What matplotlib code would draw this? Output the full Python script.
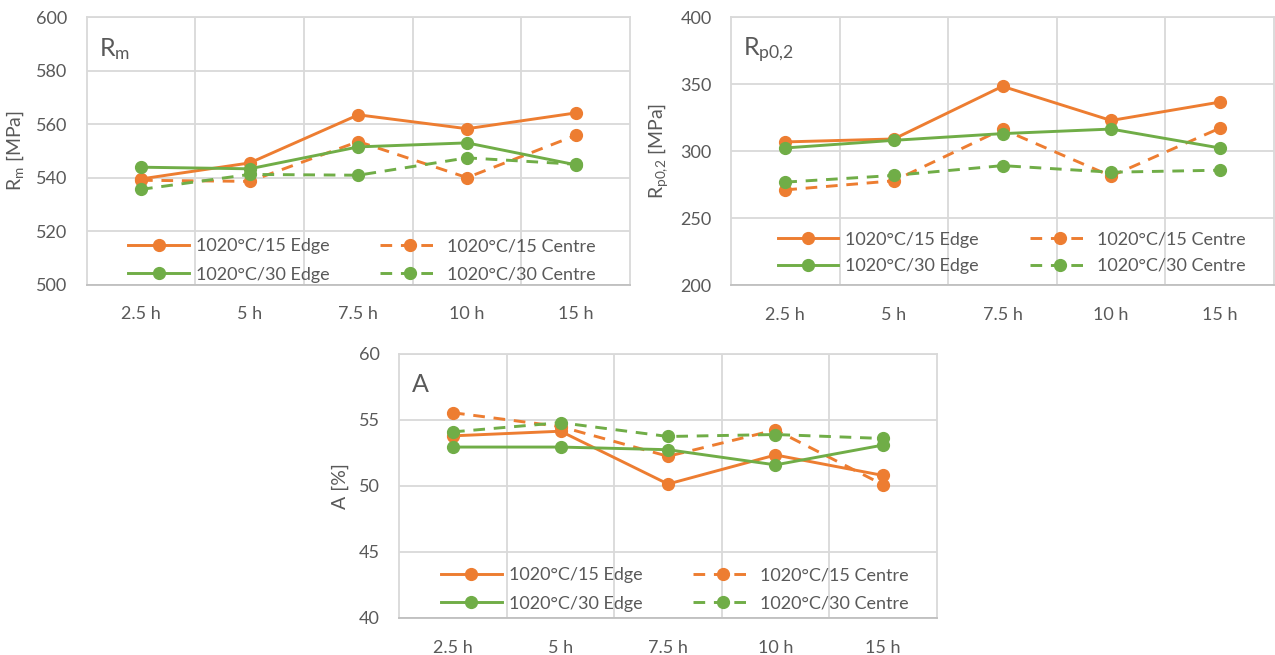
import matplotlib
matplotlib.use("Agg")
import matplotlib.pyplot as plt
import numpy as np

plt.rcParams['font.family'] = ['Lato', 'DejaVu Sans']
plt.rcParams['mathtext.fontset'] = 'custom'
plt.rcParams['mathtext.rm'] = 'Lato'
plt.rcParams['mathtext.it'] = 'Lato'

categories = ["2.5 h", "5 h", "7.5 h", "10 h", "15 h"]
series_labels = ["1020°C/15 Edge", "1020°C/15 Centre", "1020°C/30 Edge", "1020°C/30 Centre"]

rm_15_edge = [539.5, 545.5, 563.5, 558.3, 564.2]
rm_15_centre = [539.0, 538.6, 553.5, 540.0, 555.8]
rm_30_edge = [543.9, 543.3, 551.5, 553.0, 544.8]
rm_30_centre = [535.6, 541.2, 540.9, 547.4, 545.0]

rp_15_edge = [307.0, 309.2, 348.5, 323.0, 336.7]
rp_15_centre = [271.2, 278.0, 316.5, 281.5, 317.2]
rp_30_edge = [302.5, 308.2, 313.2, 316.6, 302.5]
rp_30_centre = [277.0, 282.0, 289.3, 284.4, 285.9]

a_15_edge = [53.8, 54.15, 50.15, 52.35, 50.8]
a_15_centre = [55.55, 54.5, 52.25, 54.25, 50.1]
a_30_edge = [52.95, 52.95, 52.75, 51.6, 53.1]
a_30_centre = [54.1, 54.8, 53.75, 53.9, 53.6]

ORANGE = "#ED7D31"
GREEN = "#70AD47"
TXT = "#595959"
GRID = "#D9D9D9"
FS = 13

W, H = 1275, 655
fig = plt.figure(figsize=(W / 100, H / 100), dpi=100)

def px_axes(l, t, r, b):
    return fig.add_axes([l / W, 1 - b / H, (r - l) / W, (b - t) / H])

def draw(ax, data, ylim, step, ylabel, title, leg_xy, leg_sp):
    x = list(range(len(categories)))
    dash = (0, (4, 3))
    styles = [(ORANGE, '-'), (ORANGE, dash), (GREEN, '-'), (GREEN, dash)]
    order = [0, 2, 1, 3]
    handles = []
    for (c, ls), vals, lab in zip(styles, data, series_labels):
        h, = ax.plot(x, vals, color=c, linestyle=ls, linewidth=2.1, marker='o',
                     markersize=8.5, label=lab, zorder=3, clip_on=False)
        handles.append(h)
    ax.set_xlim(-0.5, len(categories) - 0.5)
    ax.set_ylim(*ylim)
    ax.set_yticks(np.arange(ylim[0], ylim[1] + step / 2, step))
    ax.set_xticks(x)
    ax.set_xticklabels(categories)
    ax.set_xticks([i + 0.5 for i in range(len(categories) - 1)], minor=True)
    ax.grid(True, which='minor', axis='x', color=GRID, linewidth=1.3)
    ax.grid(True, which='major', axis='y', color=GRID, linewidth=1.3)
    ax.set_axisbelow(True)
    for s in ax.spines.values():
        s.set_color(GRID)
        s.set_linewidth(1.3)
    ax.spines['bottom'].set_color('#BFBFBF')
    ax.tick_params(which='both', length=0, labelsize=FS, colors=TXT)
    ax.tick_params(axis='x', pad=15.5)
    ax.tick_params(axis='y', pad=14)
    ax.set_ylabel(ylabel, fontsize=14, color=TXT, labelpad=7)
    ax.text(0.023, 0.855, title, transform=ax.transAxes, fontsize=18, color=TXT,
            ha='left', va='baseline')
    leg = ax.legend(handles=[handles[i] for i in order],
                    labels=[series_labels[i] for i in order],
                    ncol=2, loc='center', bbox_to_anchor=leg_xy,
                    frameon=False, fontsize=FS, handlelength=3.35,
                    columnspacing=2.8, labelspacing=leg_sp, handletextpad=0.38,
                    borderaxespad=0, borderpad=0.1)
    for t in leg.get_texts():
        t.set_color(TXT)

ax1 = px_axes(86.7, 17.3, 630, 284.5)
draw(ax1, [rm_15_edge, rm_15_centre, rm_30_edge, rm_30_centre], (500, 600), 20,
     r"$\mathregular{R_m}$ [MPa]", r"$\mathregular{R_m}$", (0.507, 0.090), 0.70)

ax2 = px_axes(731, 17.3, 1274, 285.3)
draw(ax2, [rp_15_edge, rp_15_centre, rp_30_edge, rp_30_centre], (200, 400), 50,
     r"$\mathregular{R_{p0{,}2}}$ [MPa]", r"$\mathregular{R_{p0{,}2}}$", (0.517, 0.1216), 0.57)

ax3 = px_axes(399.3, 354, 936.7, 618)
draw(ax3, [a_15_edge, a_15_centre, a_30_edge, a_30_centre], (40, 60), 5,
     "A [%]", "A", (0.513, 0.108), 0.70)

fig.savefig("out.png", dpi=100)
